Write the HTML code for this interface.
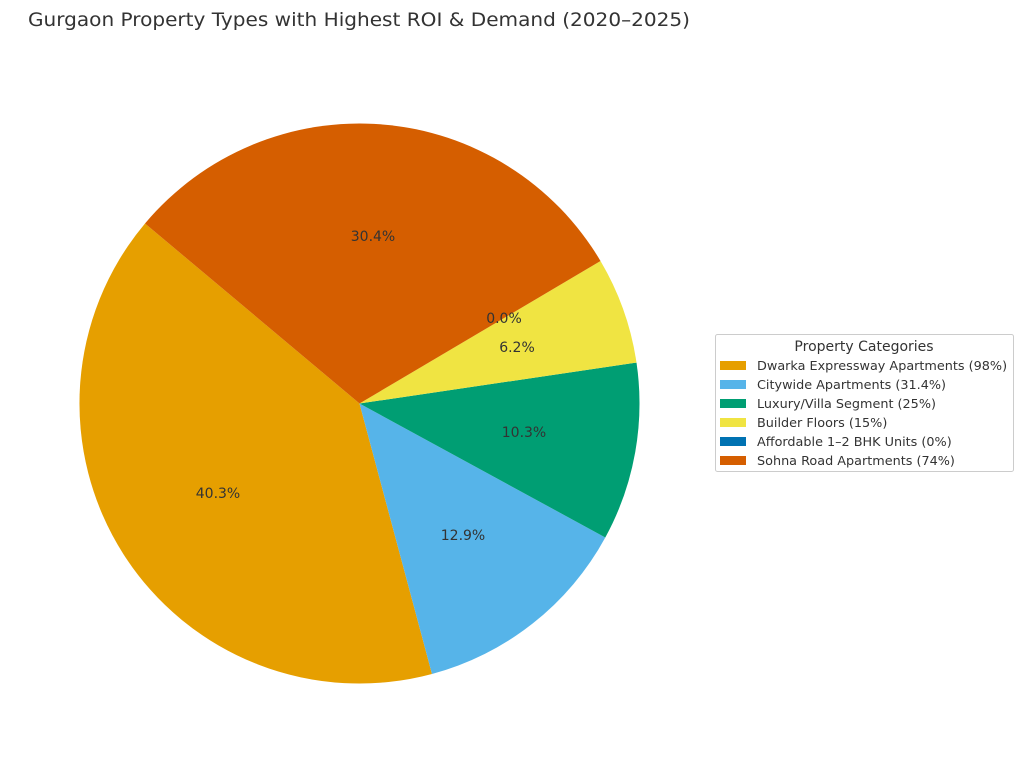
<!DOCTYPE html>
<html><head><meta charset="utf-8"><style>
html,body{margin:0;padding:0;background:#fff;}
svg{display:block;font-family:"DejaVu Sans","Liberation Sans",sans-serif;}
</style></head><body>
<svg width="1024" height="763" viewBox="0 0 1024 763" xmlns="http://www.w3.org/2000/svg">
<rect width="1024" height="763" fill="#fff"/>
<text x="28" y="26" font-size="19" fill="#333" textLength="662" lengthAdjust="spacingAndGlyphs">Gurgaon Property Types with Highest ROI &amp; Demand (2020–2025)</text>
<g stroke="none">
<path d="M359.5,403.5 L145.0,223.5 A280,280 0 0 0 431.97,673.96 Z" fill="#E69F00"/>
<path d="M359.5,403.5 L431.97,673.96 A280,280 0 0 0 605.3,537.5 Z" fill="#56B4E9"/>
<path d="M359.5,403.5 L605.3,537.5 A280,280 0 0 0 636.5,362.6 Z" fill="#009E73"/>
<path d="M359.5,403.5 L636.5,362.6 A280,280 0 0 0 600.5,261.0 Z" fill="#F0E442"/>
<path d="M359.5,403.5 L600.5,261.0 A280,280 0 0 0 145.0,223.5 Z" fill="#D55E00"/>
</g>
<g font-size="14" fill="#333" text-anchor="middle">
<text x="218" y="498">40.3%</text>
<text x="463" y="540">12.9%</text>
<text x="524" y="437">10.3%</text>
<text x="517" y="352">6.2%</text>
<text x="504" y="323">0.0%</text>
<text x="373" y="241">30.4%</text>
</g>
<rect x="715.5" y="334.5" width="298" height="137" rx="2" fill="#fff" stroke="#ccc"/>
<text x="864" y="351" font-size="14" fill="#333" text-anchor="middle">Property Categories</text>
<g font-size="12.8" fill="#333">
<rect x="720" y="361" width="26" height="9" fill="#E69F00"/><text x="757" y="370">Dwarka Expressway Apartments (98%)</text>
<rect x="720" y="380" width="26" height="9" fill="#56B4E9"/><text x="757" y="389">Citywide Apartments (31.4%)</text>
<rect x="720" y="399" width="26" height="9" fill="#009E73"/><text x="757" y="408">Luxury/Villa Segment (25%)</text>
<rect x="720" y="418" width="26" height="9" fill="#F0E442"/><text x="757" y="427">Builder Floors (15%)</text>
<rect x="720" y="437" width="26" height="9" fill="#0072B2"/><text x="757" y="446">Affordable 1–2 BHK Units (0%)</text>
<rect x="720" y="456" width="26" height="9" fill="#D55E00"/><text x="757" y="465">Sohna Road Apartments (74%)</text>
</g>
</svg>
</body></html>
